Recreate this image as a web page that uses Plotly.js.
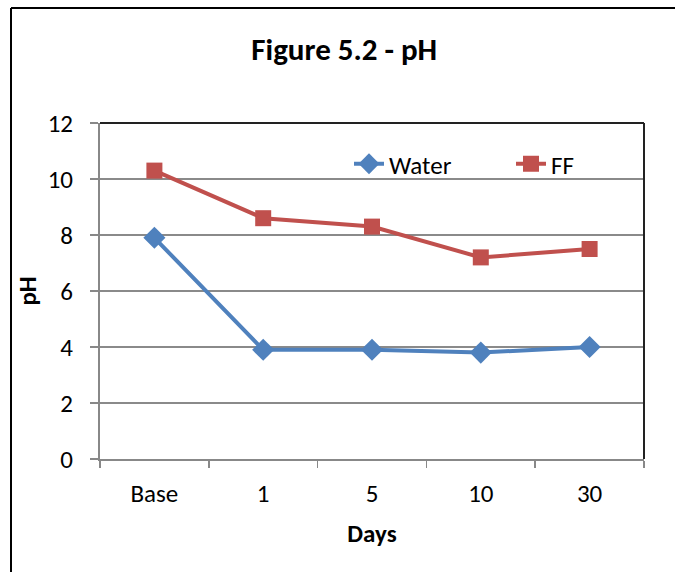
<!DOCTYPE html>
<html>
<head>
<meta charset="utf-8">
<script src="https://cdn.plot.ly/plotly-3.0.1.min.js"></script>
<style>
  html, body { margin: 0; padding: 0; background: #fff; }
  #chart { width: 675px; height: 572px; }
</style>
</head>
<body>
<div id="chart"></div>
<script>
// Sampling days and measured pH
const days = ["Base", "1", "5", "10", "30"];
const waterPH = [7.9, 3.9, 3.9, 3.8, 4.0];
const ffPH = [10.3, 8.6, 8.3, 7.2, 7.5];
const yTicks = [0, 2, 4, 6, 8, 10, 12];

const FONT = "Carlito, Lato, 'Open Sans', sans-serif";
const W = 675, H = 572;
const M = { l: 100, r: 31, t: 123, b: 113 };
const plotW = W - M.l - M.r, plotH = H - M.t - M.b;
// convert a page pixel into plot-area paper coordinates
const px = x => (x - M.l) / plotW;
const py = y => 1 - (y - M.t) / plotH;

const traces = [
  {
    x: days, y: waterPH, name: "Water", type: "scatter", mode: "lines+markers",
    line: { color: "#4F81BD", width: 4 },
    marker: { symbol: "diamond", size: 17, color: "#4F81BD" }
  },
  {
    x: days, y: ffPH, name: "FF", type: "scatter", mode: "lines+markers",
    line: { color: "#C0504D", width: 4 },
    marker: { symbol: "square", size: 16, color: "#C0504D" }
  }
];

const layout = {
  width: W, height: H,
  margin: Object.assign({ autoexpand: false }, M),
  paper_bgcolor: "#fff", plot_bgcolor: "#fff",
  font: { family: FONT, size: 25, color: "#000" },
  showlegend: true,
  title: {
    text: "<b>Figure 5.2 - pH</b>", automargin: false,
    font: { family: FONT, size: 31, color: "#000" },
    x: 0.51, xanchor: "center", y: 1 - 49 / H, yanchor: "middle"
  },
  legend: {
    orientation: "h", x: px(349), y: py(164), xanchor: "left", yanchor: "middle",
    bgcolor: "rgba(0,0,0,0)", font: { family: FONT, size: 25, color: "#000" },
    entrywidth: 117, entrywidthmode: "pixels", tracegroupgap: 0
  },
  xaxis: {
    type: "category", range: [-0.5, 4.5], automargin: false,
    tickson: "boundaries", ticks: "outside", ticklen: 7, tickwidth: 1.5, tickcolor: "#888",
    showline: true, linecolor: "#888", linewidth: 2,
    showgrid: false, zeroline: false,
    tickfont: { family: FONT, size: 25, color: "#000" }, ticklabelstandoff: 11,
    title: { text: "<b>Days</b>", font: { family: FONT, size: 25, color: "#000" }, standoff: 16 }
  },
  yaxis: {
    range: [0, 12], tickvals: yTicks, automargin: false,
    ticks: "outside", ticklen: 8, tickwidth: 1.5, tickcolor: "#888",
    showline: true, linecolor: "#888", linewidth: 2,
    showgrid: true, gridcolor: "#8a8a8a", gridwidth: 1.5, zeroline: false,
    tickfont: { family: FONT, size: 25, color: "#000" }, ticklabelstandoff: 12,
    title: { text: "<b>pH</b>", font: { family: FONT, size: 25, color: "#000" }, standoff: 4 }
  },
  shapes: [
    // plot-area frame on top and right
    { type: "line", xref: "paper", yref: "paper", x0: 0, x1: 1, y0: 1, y1: 1, line: { color: "#222", width: 2 } },
    { type: "line", xref: "paper", yref: "paper", x0: 1, x1: 1, y0: 0, y1: 1, line: { color: "#222", width: 2 } },
    // chart-area frame on top and left
    { type: "line", xref: "paper", yref: "paper", x0: px(11), x1: px(W + 5), y0: py(8), y1: py(8), line: { color: "#000", width: 2 } },
    { type: "line", xref: "paper", yref: "paper", x0: px(11), x1: px(11), y0: py(8), y1: py(H + 5), line: { color: "#000", width: 2 } }
  ]
};

Plotly.newPlot("chart", traces, layout, { displayModeBar: false, staticPlot: true });
</script>
</body>
</html>
